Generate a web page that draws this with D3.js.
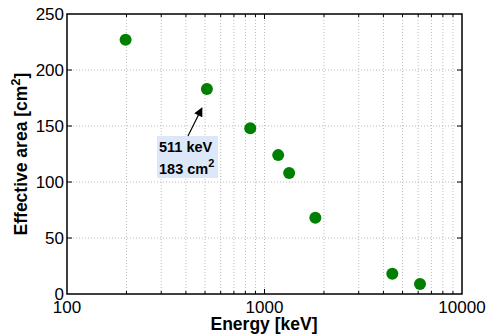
<!doctype html>
<html>
<head>
<script src="https://cdn.jsdelivr.net/npm/d3@7"></script>
<style>
  body { margin: 0; background: #fff; }
  text { font-family: "Liberation Sans", Arial, sans-serif; }
</style>
</head>
<body>
<svg id="chart" width="488" height="335"></svg>
<script>
// energies in keV and effective areas in cm^2
var energies = [198, 511, 847, 1173, 1333, 1809, 4438, 6129];
var areas = [227, 183, 148, 124, 108, 68, 18, 9];
var xTicks = [100, 1000, 10000];
var yTicks = [0, 50, 100, 150, 200, 250];

var mLeft = 67, mRight = 462, mTop = 14, mBottom = 294;
var svg = d3.select("#chart");

var x = d3.scaleLog().domain([100, 10000]).range([mLeft, mRight]);
var y = d3.scaleLinear().domain([0, 250]).range([mBottom, mTop]);

// minor log ticks for grid
var minor = [];
[100, 1000].forEach(function(d) {
  for (var k = 2; k <= 9; k++) minor.push(d * k);
});

var grid = svg.append("g");
grid.selectAll("line.vx")
  .data(minor.concat([1000]))
  .enter().append("line")
  .attr("x1", d => x(d)).attr("x2", d => x(d))
  .attr("y1", mTop).attr("y2", mBottom)
  .attr("stroke", "#bbb").attr("stroke-width", 1)
  .attr("stroke-dasharray", "1,2");
grid.selectAll("line.hy")
  .data([50, 100, 150, 200])
  .enter().append("line")
  .attr("x1", mLeft).attr("x2", mRight)
  .attr("y1", d => y(d)).attr("y2", d => y(d))
  .attr("stroke", "#bbb").attr("stroke-width", 1)
  .attr("stroke-dasharray", "1,2");

// inward ticks on all four sides
var tk = svg.append("g").attr("stroke", "#000");
minor.forEach(function(d) {
  tk.append("line").attr("x1", x(d)).attr("x2", x(d)).attr("y1", mBottom).attr("y2", mBottom - 3);
  tk.append("line").attr("x1", x(d)).attr("x2", x(d)).attr("y1", mTop).attr("y2", mTop + 3);
});
[1000].forEach(function(d) {
  tk.append("line").attr("x1", x(d)).attr("x2", x(d)).attr("y1", mBottom).attr("y2", mBottom - 5);
  tk.append("line").attr("x1", x(d)).attr("x2", x(d)).attr("y1", mTop).attr("y2", mTop + 5);
});
[50, 100, 150, 200].forEach(function(d) {
  tk.append("line").attr("x1", mLeft).attr("x2", mLeft + 5).attr("y1", y(d)).attr("y2", y(d));
  tk.append("line").attr("x1", mRight).attr("x2", mRight - 5).attr("y1", y(d)).attr("y2", y(d));
});

svg.append("rect")
  .attr("x", mLeft).attr("y", mTop)
  .attr("width", mRight - mLeft).attr("height", mBottom - mTop)
  .attr("fill", "none").attr("stroke", "#000").attr("stroke-width", 1.5);

// tick labels
svg.selectAll("text.xt")
  .data(xTicks)
  .enter().append("text")
  .attr("x", d => x(d)).attr("y", mBottom + 19)
  .attr("text-anchor", "middle")
  .attr("font-size", 17)
  .text(d => d);
svg.selectAll("text.yt")
  .data(yTicks)
  .enter().append("text")
  .attr("x", mLeft - 3).attr("y", d => y(d) + 6)
  .attr("text-anchor", "end")
  .attr("font-size", 17)
  .text(d => d);

// axis titles
svg.append("text")
  .attr("x", 264).attr("y", 330)
  .attr("text-anchor", "middle")
  .attr("font-size", 17.5).attr("font-weight", "bold")
  .text("Energy [keV]");
var yl = svg.append("text")
  .attr("transform", "translate(27,154) rotate(-90)")
  .attr("text-anchor", "middle")
  .attr("font-size", 17.5).attr("font-weight", "bold");
yl.append("tspan").text("Effective area [cm");
yl.append("tspan").attr("font-size", 13).attr("dy", -7).text("2");
yl.append("tspan").attr("dy", 7).text("]");

// points
svg.selectAll("circle")
  .data(energies)
  .enter().append("circle")
  .attr("cx", d => x(d))
  .attr("cy", (d, i) => y(areas[i]))
  .attr("r", 6)
  .attr("fill", "#008000");

// annotation
var defs = svg.append("defs");
defs.append("marker")
  .attr("id", "ah").attr("viewBox", "0 0 10 10")
  .attr("refX", 9).attr("refY", 5)
  .attr("markerWidth", 10).attr("markerHeight", 9)
  .attr("markerUnits", "userSpaceOnUse")
  .attr("orient", "auto")
  .append("path").attr("d", "M0,0 L10,5 L0,10 z").attr("fill", "#000");

svg.append("rect")
  .attr("x", 157).attr("y", 136)
  .attr("width", 61).attr("height", 42)
  .attr("fill", "#dce8f8");
svg.append("line")
  .attr("x1", 188).attr("y1", 136)
  .attr("x2", x(511) - 5).attr("y2", y(183) + 19)
  .attr("stroke", "#000").attr("stroke-width", 1.2)
  .attr("marker-end", "url(#ah)");
svg.append("text")
  .attr("x", 159).attr("y", 152)
  .attr("font-size", 14.5).attr("font-weight", "bold")
  .text("511 keV");
var t2 = svg.append("text")
  .attr("x", 159).attr("y", 174)
  .attr("font-size", 14.5).attr("font-weight", "bold");
t2.append("tspan").text("183 cm");
t2.append("tspan").attr("font-size", 11).attr("dy", -7).text("2");
</script>
</body>
</html>
